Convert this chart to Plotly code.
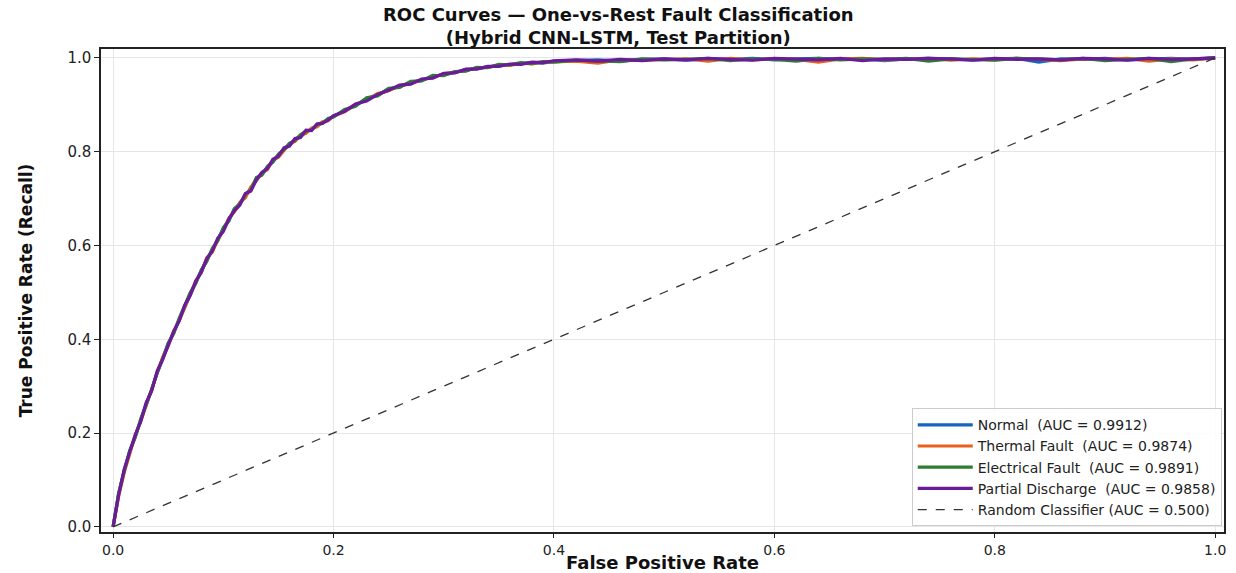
import plotly.graph_objects as go

fpr_grid = [
    0.000, 0.005, 0.010, 0.015, 0.020, 0.025, 0.030, 0.035, 0.040, 0.045,
    0.050, 0.055, 0.060, 0.065, 0.070, 0.075, 0.080, 0.085, 0.090, 0.095,
    0.100, 0.105, 0.110, 0.115, 0.120, 0.125, 0.130, 0.135, 0.140, 0.145,
    0.150, 0.155, 0.160, 0.165, 0.170, 0.175, 0.180, 0.185, 0.190, 0.195,
    0.200,
    0.21, 0.22, 0.23, 0.24, 0.25, 0.26, 0.27, 0.28, 0.29, 0.30,
    0.31, 0.32, 0.33, 0.34, 0.35, 0.36, 0.37, 0.38, 0.39, 0.40,
    0.42, 0.44, 0.46, 0.48, 0.50, 0.52, 0.54, 0.56, 0.58, 0.60,
    0.62, 0.64, 0.66, 0.68, 0.70, 0.72, 0.74, 0.76, 0.78, 0.80,
    0.82, 0.84, 0.86, 0.88, 0.90, 0.92, 0.94, 0.96, 0.98, 1.00,
]

tpr_normal = [
    0.000, 0.070, 0.120, 0.160, 0.192, 0.228, 0.262, 0.292, 0.330, 0.360,
    0.390, 0.415, 0.442, 0.470, 0.498, 0.522, 0.546, 0.570, 0.590, 0.614,
    0.636, 0.655, 0.676, 0.690, 0.706, 0.722, 0.742, 0.752, 0.766, 0.780,
    0.792, 0.806, 0.814, 0.826, 0.832, 0.842, 0.848, 0.856, 0.862, 0.869,
    0.875,
    0.888, 0.899, 0.913, 0.921, 0.933, 0.939, 0.948, 0.952, 0.961, 0.964,
    0.969, 0.975, 0.977, 0.981, 0.983, 0.986, 0.988, 0.990, 0.989, 0.993,
    0.994, 0.996, 0.993, 0.997, 0.998, 0.995, 0.998, 0.997, 0.999, 0.996,
    0.998, 0.999, 0.997, 0.998, 0.994, 0.998, 0.999, 0.997, 0.996, 0.998,
    0.999, 0.991, 0.998, 0.997, 0.999, 0.996, 0.998, 0.999, 0.997, 1.000,
]

tpr_thermal = [
    0.000, 0.065, 0.115, 0.158, 0.195, 0.225, 0.258, 0.295, 0.326, 0.362,
    0.386, 0.418, 0.440, 0.468, 0.495, 0.525, 0.542, 0.574, 0.586, 0.612,
    0.632, 0.658, 0.672, 0.692, 0.702, 0.725, 0.738, 0.755, 0.762, 0.782,
    0.788, 0.803, 0.817, 0.822, 0.835, 0.839, 0.850, 0.853, 0.864, 0.866,
    0.876,
    0.885, 0.901, 0.910, 0.924, 0.930, 0.941, 0.945, 0.954, 0.958, 0.966,
    0.970, 0.973, 0.979, 0.980, 0.985, 0.984, 0.989, 0.987, 0.991, 0.992,
    0.993, 0.989, 0.996, 0.995, 0.997, 0.998, 0.993, 0.999, 0.996, 0.998,
    0.997, 0.991, 0.998, 0.999, 0.996, 0.997, 0.999, 0.995, 0.998, 0.996,
    0.999, 0.997, 0.994, 0.998, 0.997, 0.999, 0.993, 0.998, 0.996, 1.000,
]

tpr_electrical = [
    0.000, 0.072, 0.118, 0.163, 0.190, 0.230, 0.260, 0.296, 0.328, 0.358,
    0.392, 0.412, 0.445, 0.472, 0.500, 0.519, 0.548, 0.566, 0.594, 0.610,
    0.638, 0.652, 0.679, 0.688, 0.709, 0.719, 0.745, 0.750, 0.769, 0.778,
    0.795, 0.804, 0.818, 0.824, 0.836, 0.844, 0.846, 0.858, 0.860, 0.871,
    0.874,
    0.890, 0.897, 0.915, 0.919, 0.935, 0.937, 0.950, 0.951, 0.963, 0.962,
    0.971, 0.972, 0.980, 0.979, 0.986, 0.985, 0.990, 0.988, 0.992, 0.991,
    0.995, 0.994, 0.992, 0.998, 0.996, 0.997, 0.999, 0.994, 0.998, 0.997,
    0.993, 0.999, 0.996, 0.998, 0.997, 0.999, 0.993, 0.998, 0.997, 0.995,
    0.999, 0.998, 0.996, 0.999, 0.994, 0.997, 0.999, 0.992, 0.998, 1.000,
]

tpr_partial = [
    0.000, 0.068, 0.122, 0.157, 0.196, 0.224, 0.265, 0.290, 0.332, 0.357,
    0.388, 0.417, 0.439, 0.473, 0.494, 0.524, 0.543, 0.572, 0.588, 0.616,
    0.630, 0.657, 0.674, 0.686, 0.711, 0.716, 0.740, 0.756, 0.764, 0.784,
    0.790, 0.808, 0.812, 0.828, 0.830, 0.846, 0.845, 0.859, 0.861, 0.867,
    0.877,
    0.886, 0.902, 0.908, 0.922, 0.931, 0.942, 0.944, 0.955, 0.957, 0.967,
    0.968, 0.976, 0.976, 0.982, 0.982, 0.987, 0.986, 0.991, 0.990, 0.994,
    0.996, 0.993, 0.997, 0.994, 0.998, 0.996, 0.999, 0.997, 0.995, 0.999,
    0.998, 0.996, 0.999, 0.994, 0.998, 0.997, 0.999, 0.998, 0.995, 0.999,
    0.997, 0.998, 0.996, 0.999, 0.998, 0.995, 0.999, 0.997, 0.998, 1.000,
]

class_names = ["Normal", "Thermal Fault", "Electrical Fault", "Partial Discharge"]
auc_values = [0.9912, 0.9874, 0.9891, 0.9858]
class_colors = ["#1565C0", "#E8601C", "#2E7D32", "#6A1B9A"]
series = [tpr_normal, tpr_thermal, tpr_electrical, tpr_partial]

random_x = [0.0, 1.0]
random_y = [0.0, 1.0]
random_auc = 0.500

tick_vals = [0.0, 0.2, 0.4, 0.6, 0.8, 1.0]
tick_text = ["0.0", "0.2", "0.4", "0.6", "0.8", "1.0"]

title_lines = ["ROC Curves — One-vs-Rest Fault Classification",
               "(Hybrid CNN-LSTM, Test Partition)"]

fig = go.Figure()
for name, auc, color, tpr in zip(class_names, auc_values, class_colors, series):
    fig.add_trace(go.Scatter(
        x=fpr_grid, y=tpr, mode="lines",
        name=f"{name}  (AUC = {auc:.4f})",
        line=dict(color=color, width=3.2),
    ))

fig.add_trace(go.Scatter(
    x=random_x, y=random_y, mode="lines",
    name=f"Random Classifier (AUC = {random_auc:.3f})",
    line=dict(color="#333333", width=1.3, dash="dash"),
))

font_main = "DejaVu Sans, Verdana, sans-serif"

fig.update_layout(
    width=1236, height=573,
    margin=dict(l=101, r=12, t=49, b=41, autoexpand=False),
    paper_bgcolor="white", plot_bgcolor="white",
    font=dict(family=font_main, size=14, color="#222222"),
    legend=dict(
        x=0.998, xanchor="right", y=0.012, yanchor="bottom",
        bgcolor="rgba(255,255,255,0.85)", bordercolor="#cccccc", borderwidth=1,
        font=dict(family=font_main, size=14, color="#222222"),
        tracegroupgap=0, itemwidth=55,
    ),
    showlegend=True,
    annotations=[dict(
        text="<b>" + "<br>".join(title_lines) + "</b>",
        xref="paper", yref="paper", x=0.4604, y=1.0476,
        xanchor="center", yanchor="middle", showarrow=False, align="center",
        font=dict(family=font_main, size=18, color="#111111"),
    )],
)

fig.update_xaxes(
    range=[-0.011, 1.008], tickvals=tick_vals, ticktext=tick_text,
    showgrid=True, gridcolor="#e6e6e6", gridwidth=1, zeroline=False,
    showline=True, linecolor="#222222", linewidth=1.5, mirror=True,
    ticks="outside", ticklen=4, tickcolor="#222222",
    tickfont=dict(size=14, color="#222222"), automargin=False,
    title=dict(text="<b>False Positive Rate</b>", font=dict(size=18, color="#111111"), standoff=8),
)
fig.update_yaxes(
    range=[-0.011, 1.019], tickvals=tick_vals, ticktext=tick_text,
    showgrid=True, gridcolor="#e6e6e6", gridwidth=1, zeroline=False,
    showline=True, linecolor="#222222", linewidth=1.5, mirror=True,
    ticks="outside", ticklen=5, tickcolor="#222222",
    tickfont=dict(size=15, color="#222222"), automargin=False,
    title=dict(text="<b>True Positive Rate (Recall)</b>",
               font=dict(family=font_main, size=17, color="#111111"),
               standoff=30),
)

fig.write_html("out.html")
